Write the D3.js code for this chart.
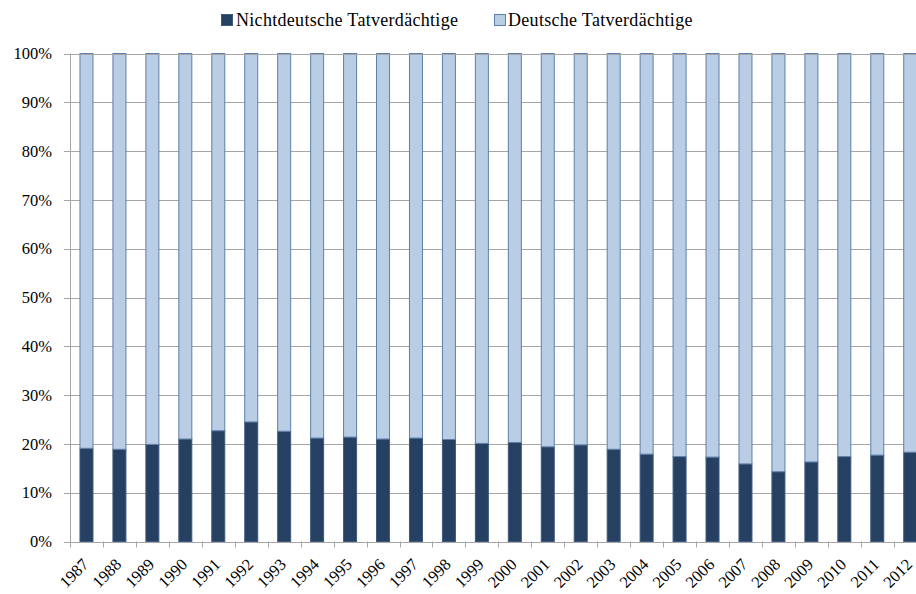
<!DOCTYPE html>
<html>
<head>
<meta charset="utf-8">
<script src="https://cdn.jsdelivr.net/npm/d3@7"></script>
<style>
  html, body { margin: 0; padding: 0; background: #fff; overflow: hidden; }
  svg { display: block; }
</style>
</head>
<body>
<svg id="chart" width="916" height="594"></svg>
<script>
const years = ["1987","1988","1989","1990","1991","1992","1993","1994","1995","1996","1997","1998","1999","2000","2001","2002","2003","2004","2005","2006","2007","2008","2009","2010","2011","2012"];
const nichtdeutsche = [19.1, 18.9, 19.9, 21.0, 22.7, 24.5, 22.6, 21.2, 21.4, 21.0, 21.2, 20.9, 20.1, 20.3, 19.4, 19.8, 18.9, 17.9, 17.4, 17.3, 15.9, 14.3, 16.3, 17.4, 17.7, 18.3];
const deutsche = [80.9, 81.1, 80.1, 79.0, 77.3, 75.5, 77.4, 78.8, 78.6, 79.0, 78.8, 79.1, 79.9, 79.7, 80.6, 80.2, 81.1, 82.1, 82.6, 82.7, 84.1, 85.7, 83.7, 82.6, 82.3, 81.7];
const seriesNames = ["Nichtdeutsche Tatverdächtige", "Deutsche Tatverdächtige"];
const seriesColors = ["#254061", "#b9cde5"];
const seriesStrokes = ["#3e5a80", "#5f7fa8"];
const yTicks = [0, 10, 20, 30, 40, 50, 60, 70, 80, 90, 100];

const FONT = "Liberation Serif";
const svg = d3.select("#chart");
const mLeft = 70, mRight = 926.7, mTop = 53.5, mBottom = 541.5;

const x = d3.scaleBand().domain(years).range([mLeft, mRight]).paddingInner(0.575).paddingOuter(0.2875);
const y = d3.scaleLinear().domain([0, 100]).range([mBottom, mTop]);

// gridlines
svg.append("g").selectAll("line").data(yTicks).join("line")
  .attr("x1", mLeft - 6).attr("x2", 916)
  .attr("y1", d => Math.round(y(d)) + 0.5).attr("y2", d => Math.round(y(d)) + 0.5)
  .attr("stroke", "#a6a6a6").attr("stroke-width", 1);

// y axis labels
svg.append("g").selectAll("text").data(yTicks).join("text")
  .attr("x", 52).attr("y", d => y(d))
  .attr("dy", "0.35em")
  .attr("text-anchor", "end")
  .style("font-family", FONT)
  .style("font-size", "16.5px")
  .attr("fill", "#000")
  .text(d => d + "%");

// stacked data
const rows = years.map((yr, i) => ({ year: yr, n: nichtdeutsche[i], d: deutsche[i] }));
const stack = d3.stack().keys(["n", "d"]);
const stacked = stack(rows);

svg.append("g").selectAll("g").data(stacked).join("g")
  .attr("fill", (s, i) => seriesColors[i])
  .attr("stroke", (s, i) => seriesStrokes[i])
  .attr("stroke-width", 1)
  .selectAll("rect").data(s => s).join("rect")
  .attr("x", d => x(d.data.year) + 0.5)
  .attr("width", x.bandwidth() - 1)
  .attr("y", d => y(d[1]))
  .attr("height", d => y(d[0]) - y(d[1]));

// top gridline over bars (100%)
svg.append("line")
  .attr("x1", mLeft - 6).attr("x2", 916)
  .attr("y1", Math.round(y(100)) + 0.5).attr("y2", Math.round(y(100)) + 0.5)
  .attr("stroke", "#a6a6a6").attr("stroke-width", 1);

// y axis line
svg.append("line")
  .attr("x1", mLeft + 0.5).attr("x2", mLeft + 0.5)
  .attr("y1", y(100)).attr("y2", mBottom + 1)
  .attr("stroke", "#a6a6a6");

// x axis line
svg.append("line")
  .attr("x1", mLeft - 6).attr("x2", 916)
  .attr("y1", Math.round(mBottom) + 0.5).attr("y2", Math.round(mBottom) + 0.5)
  .attr("stroke", "#a6a6a6");

// x ticks at category boundaries
const step = x.step();
const boundaries = years.map((yr, i) => mLeft + i * step);
boundaries.push(mRight);
svg.append("g").selectAll("line").data(boundaries).join("line")
  .attr("x1", d => Math.round(d) + 0.5).attr("x2", d => Math.round(d) + 0.5)
  .attr("y1", mBottom).attr("y2", mBottom + 6)
  .attr("stroke", "#a6a6a6");

// x labels
svg.append("g").selectAll("text").data(years).join("text")
  .attr("transform", d => `translate(${x(d) + x.bandwidth() / 2 + 3},${mBottom + 24}) rotate(-45)`)
  .attr("text-anchor", "end")
  .style("font-family", FONT)
  .style("font-size", "16.5px")
  .attr("fill", "#000")
  .text(d => d);

// legend
const legendItems = [
  { name: seriesNames[0], color: seriesColors[0], stroke: seriesStrokes[0], sx: 221, tx: 236 },
  { name: seriesNames[1], color: seriesColors[1], stroke: seriesStrokes[1], sx: 494, tx: 508 }
];
const lg = svg.append("g").selectAll("g").data(legendItems).join("g");
lg.append("rect")
  .attr("x", d => d.sx + 0.5).attr("y", 14.5).attr("width", 11).attr("height", 11)
  .attr("fill", d => d.color).attr("stroke", d => d.stroke);
lg.append("text")
  .attr("x", d => d.tx).attr("y", 26)
  .style("font-family", FONT)
  .style("font-size", "18px")
  .style("letter-spacing", "0.3px")
  .attr("fill", "#000")
  .text(d => d.name);
</script>
</body>
</html>
